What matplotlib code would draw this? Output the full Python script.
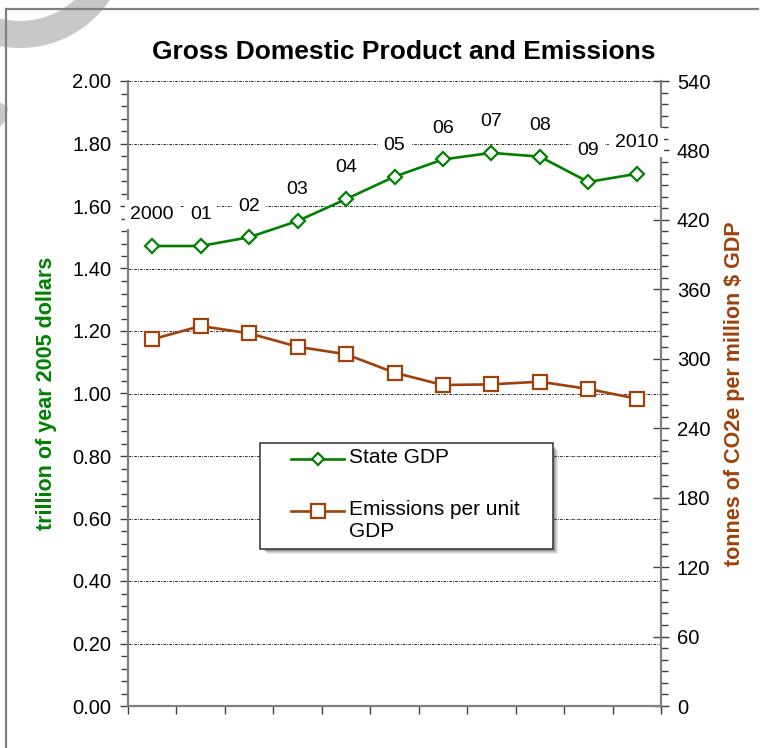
import matplotlib
matplotlib.use("Agg")
import matplotlib.pyplot as plt
from matplotlib.ticker import MultipleLocator, FormatStrFormatter
from matplotlib.lines import Line2D
from matplotlib.patches import Wedge, Polygon, Rectangle
from matplotlib.transforms import Affine2D

plt.rcParams['font.family'] = ['Liberation Sans', 'DejaVu Sans']

years = ["2000", "01", "02", "03", "04", "05", "06", "07", "08", "09", "2010"]
gdp = [1.472, 1.472, 1.50, 1.552, 1.622, 1.694, 1.749, 1.770, 1.758, 1.677, 1.703]
emissions = [316.8, 328.3, 322.0, 310.4, 303.9, 288.0, 277.3, 277.9, 280.2, 273.9, 265.5]
series_names = ['State GDP', 'Emissions per unit\nGDP']

GREEN = '#008000'
BROWN = '#A0400A'
SPINE = '#808080'

W, H = 760, 748
fig = plt.figure(figsize=(W / 100, H / 100), dpi=100)
# page coordinates in pixels, origin at top-left
px = Affine2D().scale(1 / 100, -1 / 100).translate(0, H / 100) + fig.dpi_scale_trans

# page frame and faint watermark stroke
fig.add_artist(Wedge((20, -60), 108, 0, 360, width=27, transform=px,
                     color='#c8c8c8', lw=0, zorder=0))
fig.add_artist(Polygon([(0, 127), (0, 102), (8, 108), (6, 120)], closed=True, transform=px,
                       color='#c8c8c8', lw=0, zorder=0))
fig.add_artist(Line2D([6, 758], [8.5, 8.5], transform=px, color=SPINE, lw=1.6, zorder=1))
fig.add_artist(Line2D([6, 6], [8.5, H], transform=px, color=SPINE, lw=1.6, zorder=1))

ax = fig.add_axes([128 / W, 1 - 706 / H, (661 - 128) / W, (706 - 81) / H])
ax2 = ax.twinx()

x = list(range(len(years)))

ax.set_xlim(-0.5, len(years) - 0.5)
ax.set_ylim(0, 2.0)
ax2.set_ylim(0, 540)

gdp_style = dict(color=GREEN, lw=1.9, marker='D', mfc='white', mec=GREEN, mew=1.6)
em_style = dict(color=BROWN, lw=1.9, marker='s', mfc='white', mec=BROWN, mew=1.6)

ax.plot(x, gdp, ms=7.2, label=series_names[0], zorder=4, **gdp_style)
ax2.plot(x, emissions, ms=10.5, label=series_names[1], zorder=4, **em_style)

# dash-dot gridlines at the major GDP ticks
for v in [0.2, 0.4, 0.6, 0.8, 1.0, 1.2, 1.4, 1.6, 1.8, 2.0]:
    ax.axhline(v, color='black', lw=0.6, ls=(0, (3, 1.5, 1, 1.5)), zorder=1)

ax.yaxis.set_major_locator(MultipleLocator(0.2))
ax.yaxis.set_minor_locator(MultipleLocator(0.04))
ax.yaxis.set_major_formatter(FormatStrFormatter('%.2f'))
ax2.yaxis.set_major_locator(MultipleLocator(60))
ax2.yaxis.set_minor_locator(MultipleLocator(10))

ax.set_xticks([i - 0.5 for i in range(len(years) + 1)])
ax.set_xticklabels([])
ax.tick_params(axis='x', direction='out', length=6, width=1.0, color='#404040')
ax.tick_params(axis='y', which='major', direction='out', length=6, width=1.0, color='#404040',
               labelsize=14.5, pad=6)
ax.tick_params(axis='y', which='minor', direction='out', length=5, width=1.0, color='#404040')
ax2.tick_params(axis='y', which='major', direction='inout', length=11, width=1.0, color='#404040',
                labelsize=14.5, pad=6)
ax2.tick_params(axis='y', which='minor', direction='out', length=5, width=1.0, color='#404040')

for a in (ax, ax2):
    a.spines['top'].set_visible(False)
    for s in ('left', 'right', 'bottom'):
        a.spines[s].set_color(SPINE)
        a.spines[s].set_linewidth(1.5)

ax.set_ylabel('trillion of year 2005 dollars', color=GREEN, fontsize=15.5, fontweight='bold',
              labelpad=11)
ax2.set_ylabel('tonnes of CO2e per million $ GDP', color=BROWN, fontsize=15.5, fontweight='bold',
               labelpad=10)

fig.text(404 / W, 1 - 52 / H, 'Gross Domestic Product and Emissions', ha='center', va='center',
         fontsize=19, fontweight='bold')

# year labels above the GDP markers
for xi, g, lab in zip(x, gdp, years):
    ax2.annotate(lab, xy=(xi, g), xycoords=ax.transData, xytext=(0, 22.5), textcoords='offset points',
                 ha='center', va='center', fontsize=14, zorder=6, annotation_clip=False,
                 bbox=dict(boxstyle='square,pad=0.3', fc='white', ec='none'))

# legend box with a soft drop shadow
lx0, ly0, lx1, ly1 = 260, 443, 553, 549
for k, alpha in enumerate([0.10, 0.14, 0.18, 0.22]):
    off = 6 - k
    fig.add_artist(Rectangle((lx0 + off + 1, ly0 + off + 1), lx1 - lx0 - 2 + k * 0.0, ly1 - ly0 - 2,
                             transform=px, fc='#404040', ec='none', alpha=alpha, zorder=8))
fig.add_artist(Rectangle((lx0, ly0), lx1 - lx0, ly1 - ly0, transform=px, fc='white',
                         ec='#303030', lw=1.1, zorder=9))
entries = [(459, gdp_style, 6.0, series_names[0]), (511, em_style, 10.0, series_names[1])]
for yy, style, ms, name in entries:
    fig.add_artist(Line2D([291, 344], [yy, yy], transform=px, zorder=10, **dict(style, marker=None)))
    fig.add_artist(Line2D([317.5], [yy], transform=px, zorder=11, ms=ms, ls='none',
                          **{k: v for k, v in style.items() if k not in ('lw',)}))
    fig.text(349 / W, 1 - (yy - 11) / H, name, ha='left', va='top', fontsize=15,
             linespacing=1.22, zorder=11)

fig.savefig('out.png', dpi=100)
